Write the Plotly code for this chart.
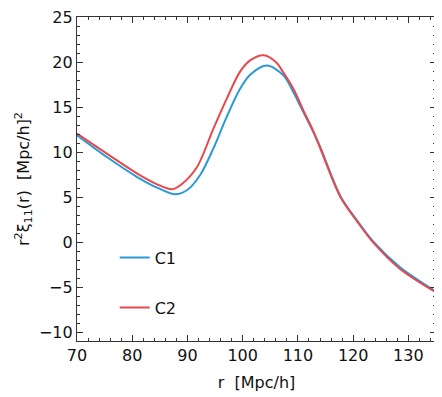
import plotly.graph_objects as go

# C1 (blue)
r_c1 = [70, 75.4, 80.9, 84.5, 87.8, 90, 92.3, 94.7, 97.1, 99.5, 101.4, 104.4,
        107.4, 109.2, 111, 112.8, 114, 117.7, 120.7, 123.7, 128.5, 135]
xi_c1 = [11.86, 9.44, 7.22, 6.04, 5.3, 5.8, 7.45, 10.4, 13.9, 17.0, 18.6, 19.6,
         18.5, 16.6, 14.4, 12.2, 10.6, 5.1, 2.4, 0.0, -2.8, -5.5]

# C2 (red)
r_c2 = [70, 75.4, 80.9, 84.5, 87.2, 89, 91.7, 94.7, 97.1, 99.5, 101.4, 103.8,
        106, 107.4, 109.2, 111, 112.8, 114, 117.7, 120.7, 123.7, 128.5, 135]
xi_c2 = [12.04, 9.82, 7.6, 6.41, 5.86, 6.45, 8.3, 12.6, 15.9, 18.9, 20.2, 20.75,
         20.0, 18.8, 17.0, 14.6, 12.3, 10.5, 5.0, 2.3, -0.1, -3.0, -5.6]

x_ticks = [70, 80, 90, 100, 110, 120, 130]
y_ticks = [-10, -5, 0, 5, 10, 15, 20, 25]

BLUE = "#2a9ad6"
RED = "#e8474c"
FONT = "DejaVu Sans"
INK = "#111111"

fig = go.Figure()
fig.add_trace(go.Scatter(x=r_c1, y=xi_c1, mode="lines", name="C1",
                         line=dict(color=BLUE, width=2, shape="spline", smoothing=0.9),
                         legendgroup="a"))
fig.add_trace(go.Scatter(x=r_c2, y=xi_c2, mode="lines", name="C2",
                         line=dict(color=RED, width=2, shape="spline", smoothing=0.9),
                         legendgroup="b"))

axis_common = dict(
    showline=True, linecolor="#333333", linewidth=1.2, mirror="allticks",
    ticks="inside", ticklen=6, tickwidth=1.2, tickcolor="#333333",
    showgrid=False, zeroline=False, ticklabeloverflow="allow",
    tickfont=dict(family=FONT, size=16, color=INK),
)

fig.update_xaxes(range=[70, 135], tickvals=x_ticks,
                 minor=dict(ticks="inside", ticklen=3, dtick=2, tick0=70,
                            tickcolor="#333333", tickwidth=1, showgrid=False),
                 title=dict(text="r  [Mpc/h]", font=dict(family=FONT, size=16, color=INK), standoff=12),
                 **axis_common)
fig.update_yaxes(range=[-11, 25], tickvals=y_ticks,
                 minor=dict(ticks="inside", ticklen=3, dtick=1, tick0=0,
                            tickcolor="#333333", tickwidth=1, showgrid=False),
                 title=dict(text="r<sup>2</sup>ξ<sub>11</sub>(r)  [Mpc/h]<sup>2</sup>",
                            font=dict(family=FONT, size=16, color=INK), standoff=5),
                 **axis_common)

# the page body adds an 8px margin, so the figure is 8px smaller and shifted
fig.update_layout(
    width=434, height=389,
    margin=dict(l=69, r=6, t=9, b=56, autoexpand=False),
    paper_bgcolor="white", plot_bgcolor="white",
    font=dict(family=FONT, size=16, color=INK),
    legend=dict(x=0.105, y=0.18, xanchor="left", yanchor="middle",
                bgcolor="rgba(0,0,0,0)", tracegroupgap=26,
                font=dict(family=FONT, size=16, color=INK)),
    showlegend=True,
)

fig.write_html("out.html")
